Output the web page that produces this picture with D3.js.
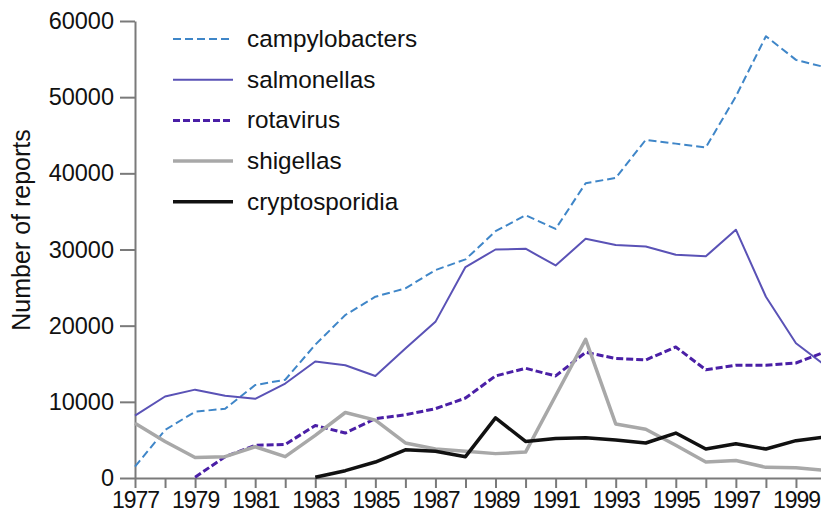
<!DOCTYPE html>
<html>
<head>
<meta charset="utf-8">
<script src="https://cdn.jsdelivr.net/npm/d3@7"></script>
<style>
  body { margin: 0; background: #fff; }
  svg { display: block; font-family: "Liberation Sans", Arial, sans-serif; }
</style>
</head>
<body>
<div id="chart"></div>
<script>
// years 1977..2000
const years = d3.range(1977, 2001);

const campylobacters = [1500, 6300, 8700, 9100, 12200, 12900, 17500, 21400, 23800, 24900, 27300, 28700,
  32400, 34500, 32700, 38700, 39400, 44400, 43900, 43400, 50100, 58000, 54900, 53900];
const salmonellas = [8200, 10700, 11600, 10800, 10400, 12400, 15300, 14800, 13400, 17000, 20500, 27700,
  30000, 30100, 27900, 31400, 30600, 30400, 29300, 29100, 32600, 23800, 17700, 14700];
// rotavirus starts in 1979
const rotavirus = [null, null, 100, 2800, 4300, 4400, 6900, 5900, 7800, 8300, 9100, 10500,
  13400, 14400, 13400, 16500, 15700, 15500, 17200, 14200, 14800, 14800, 15100, 16600];
const shigellas = [7200, 4800, 2700, 2800, 4100, 2800, 5600, 8600, 7600, 4600, 3800, 3500,
  3200, 3400, 10800, 18200, 7100, 6400, 4300, 2100, 2300, 1400, 1350, 1000];
// cryptosporidia starts in 1983
const cryptosporidia = [null, null, null, null, null, null, 100, 960, 2100, 3700, 3500, 2800,
  7900, 4800, 5200, 5300, 5000, 4600, 5900, 3800, 4500, 3800, 4900, 5400];

const yTicks = [0, 10000, 20000, 30000, 40000, 50000, 60000];
const xLabelYears = d3.range(1977, 2001, 2);

const series = [
  {name: "campylobacters", values: campylobacters, color: "#3f86c8", width: 2, dash: "8,4"},
  {name: "salmonellas", values: salmonellas, color: "#5a52b6", width: 2, dash: null},
  {name: "rotavirus", values: rotavirus, color: "#4a1fa6", width: 3, dash: "7,3"},
  {name: "shigellas", values: shigellas, color: "#a8a8a8", width: 3.5, dash: null},
  {name: "cryptosporidia", values: cryptosporidia, color: "#111111", width: 3.5, dash: null}
];

const W = 821, H = 512;
const svg = d3.select("#chart").append("svg")
  .attr("width", W)
  .attr("height", H);

const x = d3.scaleLinear().domain([1977, 2000]).range([135, 826]);
const y = d3.scaleLinear().domain([0, 60000]).range([478, 21]);

// y axis
const yAxis = svg.append("g")
  .attr("transform", "translate(135,0)")
  .call(d3.axisLeft(y).tickValues(yTicks).tickFormat(d3.format("d"))
    .tickSize(15).tickPadding(6).tickSizeOuter(0));
yAxis.select(".domain").attr("stroke", "#7a7a7a").attr("stroke-width", 2);
yAxis.selectAll(".tick line").attr("stroke", "#7a7a7a").attr("stroke-width", 2);
yAxis.selectAll(".tick text")
  .attr("font-size", 23.5)
  .attr("fill", "#111")
  .attr("font-family", "'Liberation Sans', Arial, sans-serif");

// x axis
const xAxis = svg.append("g")
  .attr("transform", "translate(0,478)")
  .call(d3.axisBottom(x).tickValues(years).tickSize(10).tickPadding(4).tickSizeOuter(0)
    .tickFormat(d => xLabelYears.includes(d) ? d : ""));
xAxis.select(".domain").attr("stroke", "#7a7a7a").attr("stroke-width", 2);
xAxis.selectAll(".tick line").attr("stroke", "#7a7a7a").attr("stroke-width", 2);
xAxis.selectAll(".tick text")
  .attr("font-size", 23)
  .attr("fill", "#111")
  .attr("letter-spacing", -1)
  .attr("font-family", "'Liberation Sans', Arial, sans-serif");

// y axis title
svg.append("text")
  .attr("transform", "translate(30,230) rotate(-90)")
  .attr("text-anchor", "middle")
  .attr("font-size", 25)
  .attr("fill", "#111")
  .text("Number of reports");

// lines
const line = d3.line()
  .defined(d => d.v != null)
  .x(d => x(d.year))
  .y(d => y(d.v));

series.forEach(s => {
  svg.append("path")
    .datum(years.map((yr, i) => ({year: yr, v: s.values[i]})))
    .attr("fill", "none")
    .attr("stroke", s.color)
    .attr("stroke-width", s.width)
    .attr("stroke-dasharray", s.dash)
    .attr("stroke-linejoin", "round")
    .attr("d", line);
});

// legend
const legend = svg.append("g");
series.forEach((s, i) => {
  const ly = 39 + i * 40.7;
  legend.append("line")
    .attr("x1", 173).attr("x2", 233)
    .attr("y1", ly).attr("y2", ly)
    .attr("stroke", s.color)
    .attr("stroke-width", s.width)
    .attr("stroke-dasharray", s.dash);
  legend.append("text")
    .attr("x", 247)
    .attr("y", ly + 8)
    .attr("font-size", 24.3)
    .attr("fill", "#111")
    .text(s.name);
});
</script>
</body>
</html>
